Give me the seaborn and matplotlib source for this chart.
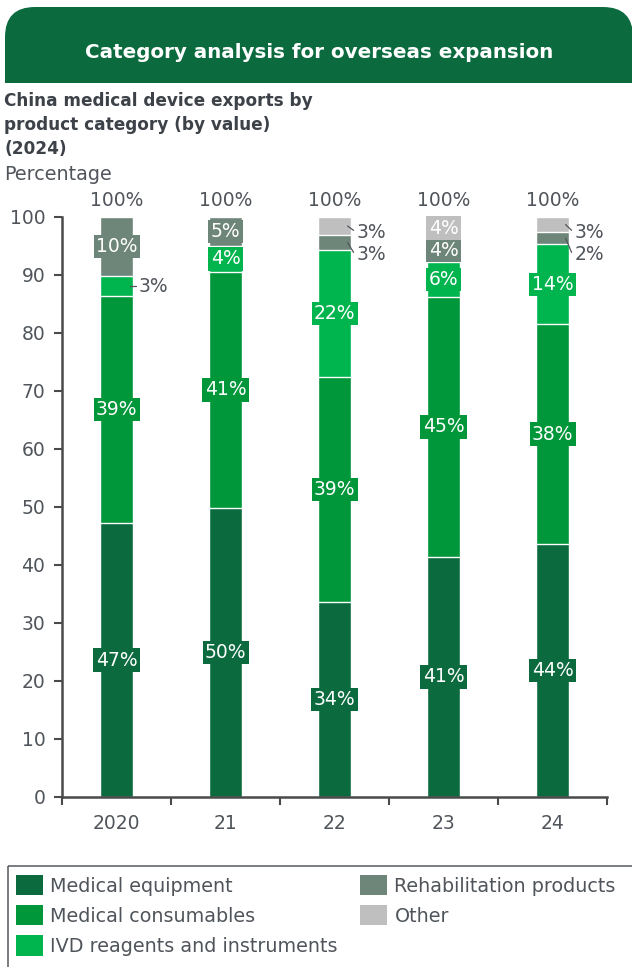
import matplotlib
matplotlib.use("Agg")
import matplotlib.pyplot as plt
import seaborn as sns
import pandas as pd
import numpy as np
from matplotlib.patches import Rectangle, FancyBboxPatch, Patch
from matplotlib.ticker import FixedLocator, NullFormatter

# ---------------- data ----------------
years = ["2020", "21", "22", "23", "24"]
series_names = ["Medical equipment", "Medical consumables",
                "IVD reagents and instruments", "Rehabilitation products", "Other"]
medical_equipment = [47.2, 49.8, 33.6, 41.4, 43.6]
medical_consumables = [39.2, 40.8, 38.8, 44.8, 37.9]
ivd_reagents = [3.4, 4.4, 21.9, 6.0, 13.8]
rehabilitation = [10.2, 5.0, 2.6, 4.0, 2.1]
other = [0.0, 0.0, 3.1, 3.8, 2.6]
totals = [100, 100, 100, 100, 100]
colors = ["#0b6b3e", "#00963a", "#00b44e", "#6e8579", "#bfbfbf"]

title = "Category analysis for overseas expansion"
subtitle_lines = ["China medical device exports by", "product category (by value)", "(2024)"]
unit_label = "Percentage"

# ---------------- setup ----------------
sns.set_theme(style="white")
plt.rcParams["font.family"] = ["DejaVu Sans"]
TXT = "#50555b"
DARK = "#3d4148"

W, H = 632, 967
fig = plt.figure(figsize=(W / 100, H / 100), dpi=100)

ov = fig.add_axes([0, 0, 1, 1], zorder=0)
ov.set_xlim(0, W)
ov.set_ylim(H, 0)
ov.axis("off")

# banner
ban = "#0b6b3e"
ov.add_patch(FancyBboxPatch((5, 7), 628, 76, boxstyle="round,pad=0,rounding_size=30",
                            fc=ban, ec="none"))
ov.add_patch(Rectangle((5, 45), 628, 38, fc=ban, ec="none"))
ov.text(319, 52, title, color="white", fontsize=14.3, fontweight="bold", ha="center", va="center")
for i, line in enumerate(subtitle_lines):
    ov.text(4, 101 + i * 24, line, color=DARK, fontsize=12.2, fontweight="bold", ha="left", va="center")
ov.text(4, 174, unit_label, color=TXT, fontsize=13.8, ha="left", va="center")

# legend frame
ov.add_patch(Rectangle((7.5, 865.5), 700, 200, fc="none", ec="#555a5f", lw=1.1))

# ---------------- chart ----------------
ax = fig.add_axes([62 / W, 1 - 797 / H, (607 - 62) / W, (797 - 217) / H], zorder=1)
ax.patch.set_alpha(0)

layers = [medical_equipment, medical_consumables, ivd_reagents, rehabilitation, other]
cum = np.cumsum(np.array(layers), axis=0)
df = pd.DataFrame({"year": years})
for k in range(len(layers)):
    df[f"c{k}"] = cum[k]

bw = 0.31
for k in reversed(range(len(layers))):
    sns.barplot(data=df, x="year", y=f"c{k}", order=years, color=colors[k], width=bw,
                edgecolor="white", linewidth=1.0, saturation=1, ax=ax, zorder=2)

ax.set_xlim(-0.5, 4.5)
ax.set_ylim(0, 100)
ax.set_xlabel("")
ax.set_ylabel("")
ax.set_yticks(range(0, 101, 10))
for s in ["top", "right"]:
    ax.spines[s].set_visible(False)
for s in ["left", "bottom"]:
    ax.spines[s].set_color("#4a4a4a")
    ax.spines[s].set_linewidth(1.8)
ax.tick_params(axis="y", direction="out", length=6, width=1.5, color="#4a4a4a",
               labelsize=13.5, labelcolor=TXT, pad=6, left=True)
ax.tick_params(axis="x", which="major", length=0, labelsize=13.5, labelcolor=TXT, pad=12)
ax.xaxis.set_minor_locator(FixedLocator(np.arange(-0.5, 4.6, 1.0)))
ax.xaxis.set_minor_formatter(NullFormatter())
ax.tick_params(axis="x", which="minor", direction="out", length=6, width=1.5,
               color="#4a4a4a", bottom=True)

# labels
fs_lab = 13.5
for i in range(len(years)):
    x = i
    outside = []
    base = 0.0
    for k in range(len(layers)):
        v = layers[k][i]
        if v <= 0:
            base += v
            continue
        center = base + v / 2
        txt = f"{int(round(v))}%"
        if v >= 3.5:
            ax.text(x, center, txt, color="white", fontsize=fs_lab, ha="center", va="center",
                    zorder=5, bbox=dict(boxstyle="square,pad=0.12", fc=colors[k], ec="none"))
        else:
            outside.append((center, txt))
        base += v
    # outside labels
    if len(outside) == 1:
        ypos = [outside[0][0]]
    else:
        ypos = [97.3 - 3.8 * j for j in range(len(outside))]
        outside = outside[::-1]
    for (c, txt), yt in zip(outside, ypos):
        ax.plot([x + bw / 2 - 0.035, x + bw / 2 + 0.02], [c, yt + (0.4 if yt != c else 0)],
                color="#50555b", lw=0.9, zorder=6, clip_on=False)
        ax.text(x + bw / 2 + 0.05, yt, txt, color=TXT, fontsize=fs_lab, ha="left", va="center",
                zorder=6, clip_on=False)
    ax.text(x, totals[i] + 2.8, f"{totals[i]}%", color=TXT, fontsize=fs_lab, ha="center",
            va="center", clip_on=False)

# ---------------- legend ----------------
handles = [Patch(fc=colors[k], ec="none", label=series_names[k]) for k in range(5)]
leg_kw = dict(frameon=False, fontsize=13.8, handlelength=1.4, handleheight=1.25,
              handletextpad=0.4, labelspacing=0.5, borderpad=0, borderaxespad=0,
              labelcolor=TXT, loc="upper left")
l1 = fig.legend(handles=handles[:3], bbox_to_anchor=(16 / W, 1 - 875 / H), **leg_kw)
l2 = fig.legend(handles=handles[3:], bbox_to_anchor=(360 / W, 1 - 875 / H), **leg_kw)

fig.savefig("out.png", dpi=100, facecolor="white")
